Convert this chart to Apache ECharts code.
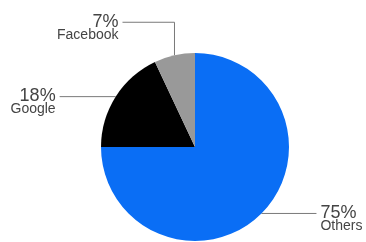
<!DOCTYPE html>
<html>
<head>
<meta charset="utf-8">
<script src="https://cdn.jsdelivr.net/npm/echarts@6/dist/echarts.min.js"></script>
<style>
  html, body { margin: 0; padding: 0; background: #fff; }
  #chart { width: 366px; height: 242px; }
</style>
</head>
<body>
<div id="chart"></div>
<script>
// data, clockwise from 12 o'clock
var names = ['Others', 'Google', 'Facebook'];
var shares = [75, 18, 7];
var colors = ['#0a6ef5', '#000000', '#999999'];

// leader line shape per slice: vertical rise, horizontal run, direction
var leaderRise = [0, 0, 33];
var leaderRun = [55, 56, 52];
var leaderDir = [1, -1, -1];

var chart = echarts.init(document.getElementById('chart'));

chart.setOption({
  animation: false,
  series: [{
    type: 'pie',
    center: [195, 147],
    radius: 94,
    startAngle: 90,
    clockwise: true,
    data: names.map(function (n, i) {
      return { name: n, value: shares[i], itemStyle: { color: colors[i] } };
    }),
    label: {
      show: true,
      formatter: function (p) {
        return '{p|' + p.value + '%}\n{n|' + p.name + '}';
      },
      color: '#444',
      fontFamily: 'Liberation Sans, Arial, sans-serif',
      rich: {
        p: { fontSize: 18, lineHeight: 15, color: '#444', fontFamily: 'Liberation Sans, Arial, sans-serif' },
        n: { fontSize: 14, lineHeight: 12, color: '#444', fontFamily: 'Liberation Sans, Arial, sans-serif' }
      }
    },
    labelLine: {
      show: true,
      length: 10,
      length2: 10,
      lineStyle: { color: '#7a7a7a', width: 1 }
    },
    labelLayout: function (params) {
      var i = params.dataIndex;
      var p0 = params.labelLinePoints[0];
      var x0 = p0[0], y0 = p0[1];
      var y1 = y0 - leaderRise[i];
      var x2 = x0 + leaderDir[i] * leaderRun[i];
      return {
        x: x2 + leaderDir[i] * 4,
        y: y1 - 8,
        align: leaderDir[i] > 0 ? 'left' : 'right',
        verticalAlign: 'top',
        labelLinePoints: [[x0, y0], [x0, y1], [x2, y1]]
      };
    }
  }]
});
</script>
</body>
</html>
